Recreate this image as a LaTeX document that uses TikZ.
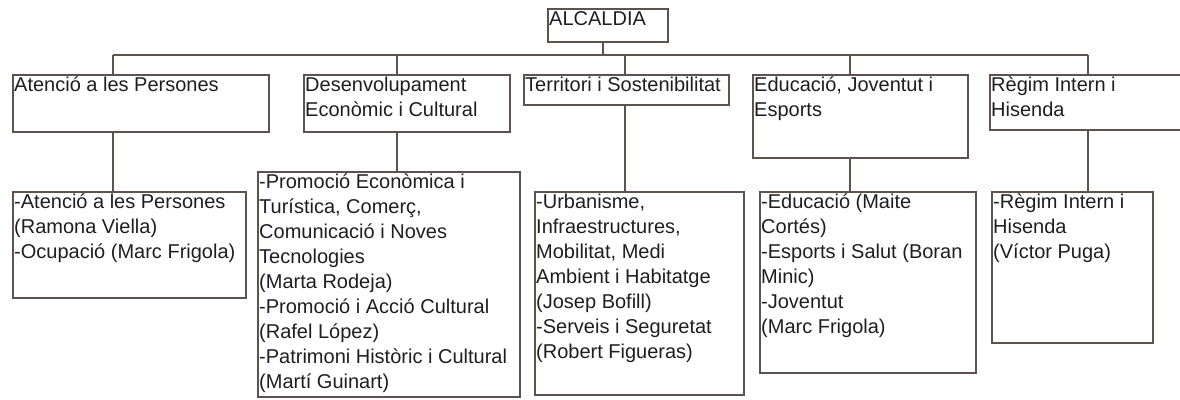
\documentclass[tikz,border=0pt]{standalone}
\usepackage{fontspec}
\setmainfont{Liberation Sans}
\usetikzlibrary{calc}
\definecolor{linecol}{RGB}{94,82,79}
\definecolor{txtcol}{RGB}{30,30,30}
\begin{document}
\begin{tikzpicture}[x=1pt,y=-1pt,
  box/.style={draw=linecol, line width=1.7pt, inner sep=0pt, outer sep=0pt, anchor=north west, rectangle},
  txt/.style={anchor=north west, inner sep=0pt, align=left, text=txtcol,
    font=\fontsize{20}{25}\selectfont, xshift=1pt, yshift=-2pt},
  conn/.style={draw=linecol, line width=1.7pt}]
\useasboundingbox (0,0) rectangle (1180,399);
% top box
\node[box, minimum width=120pt, minimum height=33pt] (alc) at (548,9) {};
\node[txt] (alct) at (alc.north west) {\rule{0pt}{14pt}ALCALDIA};
% second level
\node[box, minimum width=256pt, minimum height=57pt] (b1) at (13,75) {};
\node[box, minimum width=206pt, minimum height=57pt] (b2) at (304,75) {};
\node[box, minimum width=205pt, minimum height=30pt] (b3) at (524,75) {};
\node[box, minimum width=215pt, minimum height=83pt] (b4) at (753,75) {};
\node[box, minimum width=196pt, minimum height=55pt] (b5) at (990,75) {};
\node[txt] (b1t) at (b1.north west) {\rule{0pt}{14pt}Atenció a les Persones};
\node[txt] (b2t) at (b2.north west) {\rule{0pt}{14pt}Desenvolupament\\Econòmic i Cultural};
\node[txt] (b3t) at (b3.north west) {\rule{0pt}{14pt}Territori i Sostenibilitat};
\node[txt] (b4t) at (b4.north west) {\rule{0pt}{14pt}Educació, Joventut i\\Esports};
\node[txt] (b5t) at (b5.north west) {\rule{0pt}{14pt}Règim Intern i\\Hisenda};
% third level
\node[box, minimum width=233pt, minimum height=106pt] (c1) at (13,192) {};
\node[box, minimum width=262pt, minimum height=225pt] (c2) at (258,172) {};
\node[box, minimum width=209pt, minimum height=203pt] (c3) at (535,192) {};
\node[box, minimum width=216pt, minimum height=181pt] (c4) at (760,192) {};
\node[box, minimum width=161pt, minimum height=151pt] (c5) at (992,192) {};
\node[txt] (c1t) at (c1.north west) {\rule{0pt}{14pt}-Atenció a les Persones\\(Ramona Viella)\\-Ocupació (Marc Frigola)};
\node[txt] (c2t) at (c2.north west) {\rule{0pt}{14pt}-Promoció Econòmica i\\Turística, Comerç,\\Comunicació i Noves\\Tecnologies\\(Marta Rodeja)\\-Promoció i Acció Cultural\\(Rafel López)\\-Patrimoni Històric i Cultural\\(Martí Guinart)};
\node[txt] (c3t) at (c3.north west) {\rule{0pt}{14pt}-Urbanisme,\\Infraestructures,\\Mobilitat, Medi\\Ambient i Habitatge\\(Josep Bofill)\\-Serveis i Seguretat\\(Robert Figueras)};
\node[txt] (c4t) at (c4.north west) {\rule{0pt}{14pt}-Educació (Maite\\Cortés)\\-Esports i Salut (Boran\\Minic)\\-Joventut\\(Marc Frigola)};
\node[txt] (c5t) at (c5.north west) {\rule{0pt}{14pt}-Règim Intern i\\Hisenda\\(Víctor Puga)};
% bus and stubs
\coordinate (s0) at (603,55);
\coordinate (s1) at (113,55);
\coordinate (s2) at (397,55);
\coordinate (s3) at (625,55);
\coordinate (s4) at (850,55);
\coordinate (s5) at (1088,55);
\draw[conn] (s1) -- (s5);
\draw[conn] (alc.south -| s0) -- (s0);
\foreach \i in {1,...,5}{
  \draw[conn] (s\i) -- (s\i |- b\i.north);
  \draw[conn] (s\i |- b\i.south) -- (s\i |- c\i.north);
}
\end{tikzpicture}
\end{document}
